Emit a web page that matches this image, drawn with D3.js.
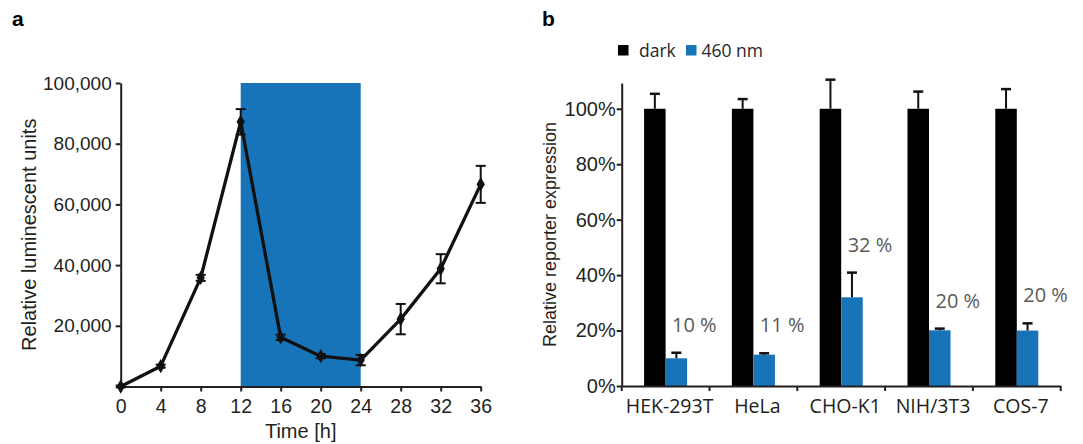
<!DOCTYPE html>
<html>
<head>
  <meta charset="utf-8">
  <style>
    body { margin: 0; background: #fff; }
    svg { display: block; }
    .tick text { fill: #231f20; }
  </style>
</head>
<body>
  <div id="chart"></div>
  <script src="https://d3js.org/d3.v7.min.js"></script>
  <script>
    // panel a: luminescence over time
    var hours = [0, 4, 8, 12, 16, 20, 24, 28, 32, 36];
    var rlu = [0, 6700, 35800, 87200, 16200, 10000, 8700, 22200, 38800, 66600];
    var rluErr = [300, 500, 1000, 4200, 900, 700, 1700, 5000, 4800, 6100];
    var lightOn = [12, 24];
    var rluTicks = [20000, 40000, 60000, 80000, 100000];

    // panel b: reporter expression per cell line
    var cellLines = ["HEK-293T", "HeLa", "CHO-K1", "NIH/3T3", "COS-7"];
    var seriesNames = ["dark", "460 nm"];
    var darkVals = [100, 100, 100, 100, 100];
    var darkErr = [5.4, 3.5, 10.5, 6.2, 7.1];
    var blueVals = [10, 11.3, 32, 20.1, 20];
    var blueErr = [2, 0.5, 8.9, 0.6, 2.6];
    var pctLabels = ["10 %", "11 %", "32 %", "20 %", "20 %"];
    var pctTicks = [0, 20, 40, 60, 80, 100];

    var BLUE = "#1874b8";
    var INK = "#231f20";

    var svg = d3.select("#chart").append("svg")
        .attr("width", 1083).attr("height", 444);

    // ---------- panel a ----------
    var ga = svg.append("g");
    var xa = d3.scaleLinear().domain([0, 36]).range([120.7, 480.7]);
    var ya = d3.scaleLinear().domain([0, 100000]).range([386.5, 83]);

    ga.append("rect")
        .attr("x", xa(lightOn[0]))
        .attr("y", ya(100000))
        .attr("width", xa(lightOn[1]) - xa(lightOn[0]))
        .attr("height", ya(0) - ya(100000))
        .attr("fill", BLUE);

    ga.append("g")
        .attr("transform", "translate(0," + ya(0) + ")")
        .call(d3.axisBottom(xa).tickValues(hours).tickSize(5).tickPadding(8).tickSizeOuter(0))
        .call(g => g.selectAll("text").style("font", "19.5px 'Liberation Sans', Arial, sans-serif"))
        .call(g => g.selectAll("line,path").attr("stroke", INK).attr("stroke-width", 2));

    ga.append("g")
        .attr("transform", "translate(" + xa(0) + ",0)")
        .call(d3.axisLeft(ya).tickValues(rluTicks).tickFormat(d3.format(",")).tickSize(5).tickPadding(4).tickSizeOuter(0))
        .call(g => g.selectAll("text").style("font", "19px 'Liberation Sans', Arial, sans-serif"))
        .call(g => g.selectAll("line,path").attr("stroke", INK).attr("stroke-width", 2));

    ga.append("text")
        .attr("transform", "translate(36," + (ya(50000)) + ") rotate(-90)")
        .attr("text-anchor", "middle")
        .attr("fill", INK)
        .style("font", "20px 'Liberation Sans', Arial, sans-serif")
        .text("Relative luminescent units");

    ga.append("text")
        .attr("x", xa(18)).attr("y", 438)
        .attr("text-anchor", "middle")
        .attr("fill", INK)
        .style("font", "20px 'Liberation Sans', Arial, sans-serif")
        .text("Time [h]");

    var pts = hours.map((h, i) => ({h: h, v: rlu[i], e: rluErr[i]}));

    // error bars
    var eb = ga.append("g").attr("stroke", "#111").attr("stroke-width", 2);
    pts.forEach(function (d) {
      eb.append("line").attr("x1", xa(d.h)).attr("x2", xa(d.h))
          .attr("y1", ya(d.v - d.e)).attr("y2", ya(d.v + d.e));
      [d.v - d.e, d.v + d.e].forEach(function (v) {
        eb.append("line").attr("x1", xa(d.h) - 5).attr("x2", xa(d.h) + 5)
            .attr("y1", ya(v)).attr("y2", ya(v));
      });
    });

    ga.append("path")
        .datum(pts)
        .attr("fill", "none")
        .attr("stroke", "#111")
        .attr("stroke-width", 3.3)
        .attr("stroke-linejoin", "round")
        .attr("d", d3.line().x(d => xa(d.h)).y(d => ya(d.v)));

    ga.selectAll(".mk").data(pts).enter().append("path")
        .attr("transform", d => "translate(" + xa(d.h) + "," + ya(d.v) + ")")
        .attr("d", d3.symbol().type(d3.symbolDiamond).size(60))
        .attr("fill", "#111");

    svg.append("text").attr("x", 12).attr("y", 26)
        .style("font", "bold 21px 'Liberation Sans', Arial, sans-serif")
        .attr("fill", "#000").text("a");

    // ---------- panel b ----------
    var gb = svg.append("g");
    var xb = d3.scaleBand().domain(cellLines).range([621.7, 1060.7]);
    var xs = d3.scaleBand().domain(seriesNames).range([0, xb.bandwidth()]).paddingOuter(1.04);
    var yb = d3.scaleLinear().domain([0, 109.3]).range([386, 83]);
    var colors = {"dark": "#000", "460 nm": BLUE};

    var rows = cellLines.map((c, i) => ({
      cell: c,
      bars: [
        {key: "dark", v: darkVals[i], e: darkErr[i]},
        {key: "460 nm", v: blueVals[i], e: blueErr[i]}
      ],
      label: pctLabels[i]
    }));

    var grp = gb.selectAll(".grp").data(rows).enter().append("g")
        .attr("transform", d => "translate(" + xb(d.cell) + ",0)");

    grp.selectAll("rect").data(d => d.bars).enter().append("rect")
        .attr("x", d => xs(d.key))
        .attr("y", d => yb(d.v))
        .attr("width", xs.bandwidth())
        .attr("height", d => yb(0) - yb(d.v))
        .attr("fill", d => colors[d.key]);

    grp.each(function (d) {
      var g = d3.select(this);
      d.bars.forEach(function (b) {
        var cx = xs(b.key) + xs.bandwidth() / 2;
        g.append("line").attr("x1", cx).attr("x2", cx)
            .attr("y1", yb(b.v)).attr("y2", yb(b.v + b.e))
            .attr("stroke", "#111").attr("stroke-width", 2);
        g.append("line").attr("x1", cx - 5).attr("x2", cx + 5)
            .attr("y1", yb(b.v + b.e)).attr("y2", yb(b.v + b.e))
            .attr("stroke", "#111").attr("stroke-width", 2.5);
      });
      var blue = d.bars[1];
      g.append("text")
          .attr("x", xs("460 nm") + xs.bandwidth() / 2 + 18)
          .attr("y", yb(blue.v + blue.e) - 21)
          .attr("text-anchor", "middle")
          .attr("fill", "#5a5a5a")
          .style("font", "20px 'Open Sans', sans-serif")
          .text(d.label);
    });

    // x axis with ticks on category boundaries
    gb.append("g")
        .attr("transform", "translate(0," + yb(0) + ")")
        .call(d3.axisBottom(xb).tickSize(0).tickPadding(13))
        .call(g => g.select(".domain").attr("stroke", INK).attr("stroke-width", 2))
        .call(g => g.selectAll("text")
            .attr("dx", 4)
            .style("font", "19.5px 'Open Sans', sans-serif").attr("fill", "#1a1a1a"));

    var bounds = cellLines.map(c => xb(c)).concat([xb.range()[1]]);
    gb.selectAll(".bt").data(bounds).enter().append("line")
        .attr("x1", d => d).attr("x2", d => d)
        .attr("y1", yb(0)).attr("y2", yb(0) + 5)
        .attr("stroke", INK).attr("stroke-width", 2);

    gb.append("g")
        .attr("transform", "translate(" + xb.range()[0] + ",0)")
        .call(d3.axisLeft(yb).tickValues(pctTicks).tickFormat(d => d + "%").tickSize(5).tickPadding(1).tickSizeOuter(0))
        .call(g => g.selectAll("text").style("font", "20px 'Liberation Sans', Arial, sans-serif"))
        .call(g => g.selectAll("line,path").attr("stroke", INK).attr("stroke-width", 2));

    gb.append("text")
        .attr("transform", "translate(556," + yb(54.65) + ") rotate(-90)")
        .attr("text-anchor", "middle")
        .attr("fill", INK)
        .style("font", "18px 'Liberation Sans', Arial, sans-serif")
        .text("Relative reporter expression");

    // legend
    var lg = gb.append("g");
    var legX = [618, 686];
    seriesNames.forEach(function (s, i) {
      lg.append("rect").attr("x", legX[i]).attr("y", 45).attr("width", 10.5).attr("height", 10.5)
          .attr("fill", colors[s]);
      lg.append("text").attr("x", legX[i] + (i === 0 ? 21 : 15.5)).attr("y", 56.7)
          .attr("fill", "#262626")
          .style("font", "17.5px 'Open Sans', sans-serif")
          .text(s);
    });

    svg.append("text").attr("x", 542).attr("y", 26)
        .style("font", "bold 21px 'Liberation Sans', Arial, sans-serif")
        .attr("fill", "#000").text("b");
  </script>
</body>
</html>
